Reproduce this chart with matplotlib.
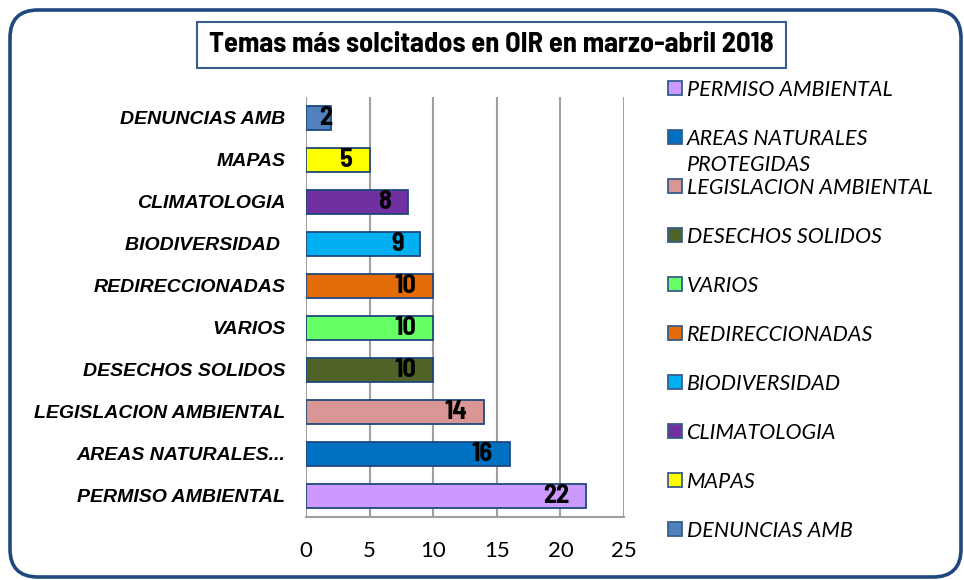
import matplotlib
matplotlib.use("Agg")
import matplotlib.pyplot as plt
from matplotlib.patches import FancyBboxPatch, Rectangle

# datos (de abajo hacia arriba, como en el grafico)
temas = ["PERMISO AMBIENTAL", "AREAS NATURALES...", "LEGISLACION AMBIENTAL",
         "DESECHOS SOLIDOS", "VARIOS", "REDIRECCIONADAS", "BIODIVERSIDAD ",
         "CLIMATOLOGIA", "MAPAS", "DENUNCIAS AMB"]
leyenda = ["PERMISO AMBIENTAL", "AREAS NATURALES\nPROTEGIDAS", "LEGISLACION AMBIENTAL",
           "DESECHOS SOLIDOS", "VARIOS", "REDIRECCIONADAS", "BIODIVERSIDAD",
           "CLIMATOLOGIA", "MAPAS", "DENUNCIAS AMB"]
valores = [22, 16, 14, 10, 10, 10, 9, 8, 5, 2]
colores = ["#CC99FF", "#0070C0", "#DA9694", "#4F6228", "#66FF66",
           "#E36C09", "#00B0F0", "#7030A0", "#FFFF00", "#4F81BD"]
xticks = [0, 5, 10, 15, 20, 25]
titulo = "Temas más solcitados en OIR en marzo-abril 2018"

W, H = 964, 580
narrow = ["Barlow Semi Condensed", "DejaVu Sans"]

fig = plt.figure(figsize=(W / 100, H / 100), dpi=100)

# marco redondeado
marco = FancyBboxPatch((0.10, 0.03), 9.51, 5.67, boxstyle="round,pad=0,rounding_size=0.28",
                       transform=fig.dpi_scale_trans, fill=False, edgecolor="#1F497D",
                       linewidth=2.6, zorder=0)
fig.patches.append(marco)

ax = fig.add_axes([306 / W, 1 - 517 / H, 318 / W, 420 / H])
ypos = list(range(len(temas)))
ax.barh(ypos, valores, height=0.57, color=colores, edgecolor="#1F497D", linewidth=1.3, zorder=3)

for y, v in zip(ypos, valores):
    # etiqueta dentro del extremo de la barra
    ax.text(max(v - 1.3, 2.1), y, str(v), ha="right", va="center", fontsize=19,
            fontweight="bold", family=narrow, zorder=4)

ax.set_xlim(0, 25)
ax.set_ylim(-0.5, len(temas) - 0.5)
ax.set_xticks(xticks)
ax.set_xticklabels([str(t) for t in xticks], fontsize=16, family="Lato")
ax.set_yticks(ypos)
ax.set_yticklabels(temas, fontsize=14, fontweight="bold", style="italic",
                   family="Liberation Sans")
ax.tick_params(axis="x", length=0, pad=17)
ax.tick_params(axis="y", length=0, pad=15)
ax.grid(axis="x", color="#A0A0A0", linewidth=1.5, zorder=0)
for s in ["top", "right", "left"]:
    ax.spines[s].set_visible(False)
ax.spines["bottom"].set_color("#A0A0A0")
ax.spines["bottom"].set_linewidth(1.5)

# titulo en recuadro
fig.patches.append(Rectangle((197 / W, 1 - 68 / H), 589 / W, 46 / H, transform=fig.transFigure,
                             fill=False, edgecolor="#385D8A", linewidth=1.5))
fig.text(491 / W, 1 - 45 / H, titulo, ha="center", va="center", fontsize=20.5, fontweight="bold",
         family=narrow)

# leyenda a mano (Excel superpone la entrada de dos lineas)
for i, (lab, c) in enumerate(zip(leyenda, colores)):
    yc = 88 + i * 49
    fig.patches.append(Rectangle((668 / W, 1 - (yc + 7) / H), 14 / W, 14 / H,
                                 transform=fig.transFigure, facecolor=c,
                                 edgecolor="#385D8A", linewidth=1.3))
    first, *rest = lab.split("\n")
    fig.text(687 / W, 1 - yc / H, first, ha="left", va="center_baseline", fontsize=15.5,
             style="italic", family="Lato")
    for k, line in enumerate(rest, 1):
        fig.text(687 / W, 1 - (yc + 26 * k) / H, line, ha="left", va="center_baseline",
                 fontsize=15.5, style="italic", family="Lato")

fig.savefig("out.png", dpi=100)
